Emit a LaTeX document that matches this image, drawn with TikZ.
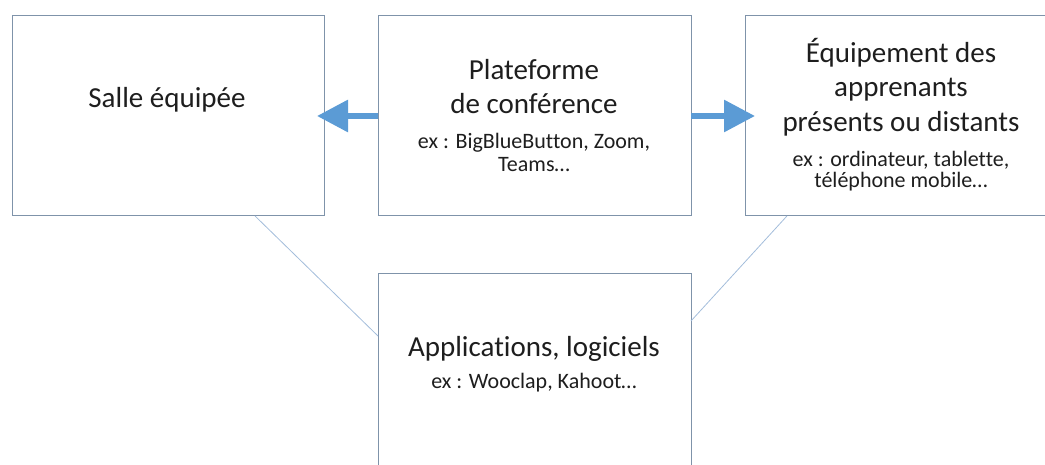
\documentclass[tikz,border=0pt]{standalone}
\usepackage{fontspec}
\setmainfont{Carlito}[RawFeature=-liga]
\usetikzlibrary{arrows.meta,calc}
\definecolor{boxline}{HTML}{7F93AA}
\definecolor{linkline}{HTML}{A3BDDB}
\definecolor{arrowblue}{HTML}{5B9BD5}
\definecolor{txt}{HTML}{1E1E1E}
\begin{document}
\begin{tikzpicture}[x=1pt,y=1pt,
  box/.style={draw=boxline,line width=1pt,fill=white,minimum height=200pt,inner sep=0pt,outer sep=0pt},
  bigtxt/.style={anchor=base,inner sep=0pt,text=txt,font=\fontsize{29}{35}\selectfont},
  smalltxt/.style={anchor=base,inner sep=0pt,text=txt,font=\fontsize{22}{26}\selectfont},
  link/.style={draw=linkline,line width=0.8pt},
  bigarrow/.style={draw=arrowblue,line width=6pt,-{Triangle[length=31pt,width=31pt]}}]
\useasboundingbox (0,0) rectangle (1045,464);
% boxes
\node[box,minimum width=312pt] (L) at (168,348) {};
\node[box,minimum width=313pt] (M) at (534.5,348) {};
\node[box,minimum width=313pt] (R) at (901.5,348) {};
\node[box,minimum width=313pt] (B) at (534.5,90) {};
% connector lines
\coordinate (l1) at ($(L.south west)!0.779!(L.south east)$);
\coordinate (l2) at ($(B.north west)!0.31!(B.south west)$);
\coordinate (r1) at ($(R.south west)!0.134!(R.south east)$);
\coordinate (r2) at ($(B.north east)!0.235!(B.south east)$);
\draw[link] (l1) -- (l2);
\draw[link] (r1) -- (r2);
% arrows
\coordinate (lt) at ($(L.east)+(-7,0)$);
\coordinate (rt) at ($(R.west)+(10,0)$);
\draw[bigarrow] (M.west) -- (lt);
\draw[bigarrow] (M.east) -- (rt);
% texts
\node[bigtxt] (t1) at (167,356) {Salle équipée};
\node[bigtxt] (t2) at (534,384) {Plateforme};
\node[bigtxt] (t3) at (534,350) {de conférence};
\node[smalltxt] (t4) at (534,315) {ex : BigBlueButton, Zoom,};
\node[smalltxt] (t5) at (534,292) {Teams…};
\node[bigtxt] (t6) at (901,401) {Équipement des};
\node[bigtxt] (t7) at (901,367) {apprenants};
\node[bigtxt] (t8) at (901,332) {présents ou distants};
\node[smalltxt] (t9) at (901,297) {ex : ordinateur, tablette,};
\node[smalltxt] (t10) at (901,276) {téléphone mobile…};
\node[bigtxt] (t11) at (534,107) {Applications, logiciels};
\node[smalltxt] (t12) at (534,75) {ex : Wooclap, Kahoot…};
\end{tikzpicture}
\end{document}
